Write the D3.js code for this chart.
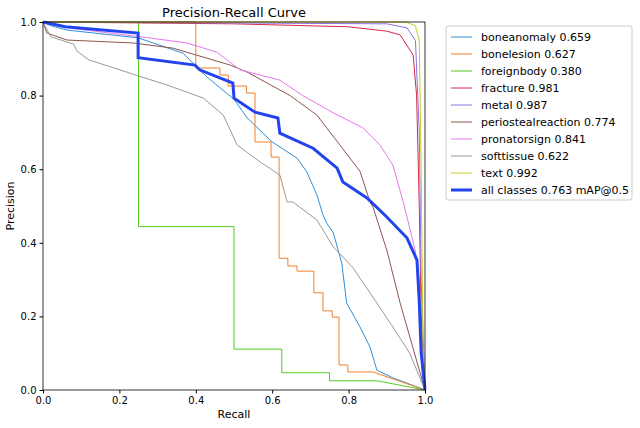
<!DOCTYPE html>
<html><head><meta charset="utf-8">
<script src="https://cdn.jsdelivr.net/npm/d3@7"></script>
<style>body{margin:0;background:#fff}svg{font-family:"DejaVu Sans",sans-serif}</style>
</head><body><svg id="c" width="640" height="428"></svg>
<script>
const names = ["boneanomaly 0.659","bonelesion 0.627","foreignbody 0.380","fracture 0.981","metal 0.987","periostealreaction 0.774","pronatorsign 0.841","softtissue 0.622","text 0.992","all classes 0.763 mAP@0.5"];
const colors = ["#2f8fd8","#f07f2a","#55cc22","#d8284a","#9070e0","#8c564b","#e878e8","#999999","#c8cc22","#2244ee"];

const boneanomaly = [[0,1],[0.02,0.99],[0.063,0.978],[0.249,0.957],[0.367,0.915],[0.41,0.87],[0.43,0.85],[0.5,0.79],[0.534,0.74],[0.6,0.674],[0.665,0.63],[0.69,0.594],[0.717,0.53],[0.733,0.476],[0.743,0.453],[0.76,0.427],[0.782,0.345],[0.795,0.236],[0.83,0.171],[0.856,0.117],[0.874,0.054],[0.916,0.033],[1,0]];
const bonelesion = [[0,1],[0.4,1],[0.4,0.875],[0.463,0.875],[0.463,0.856],[0.485,0.856],[0.485,0.826],[0.533,0.826],[0.533,0.807],[0.555,0.807],[0.555,0.674],[0.597,0.674],[0.597,0.633],[0.618,0.633],[0.618,0.358],[0.641,0.358],[0.641,0.337],[0.665,0.337],[0.665,0.323],[0.709,0.323],[0.709,0.264],[0.733,0.264],[0.733,0.215],[0.757,0.215],[0.757,0.198],[0.775,0.198],[0.775,0.068],[0.798,0.068],[0.798,0.049],[0.864,0.049],[1,0]];
const foreignbody = [[0,1],[0.25,1],[0.25,0.444],[0.5,0.444],[0.5,0.111],[0.625,0.111],[0.625,0.047],[0.75,0.047],[0.75,0.025],[0.875,0.025],[1,0]];
const fracture = [[0,1],[0.5,0.995],[0.8,0.987],[0.9,0.975],[0.935,0.965],[0.969,0.91],[0.978,0.8],[0.985,0.5],[0.99,0.2],[1,0]];
const metal = [[0,1],[0.9,0.995],[0.953,0.984],[0.975,0.95],[0.985,0.7],[0.99,0.3],[1,0]];
const periosteal = [[0,1],[0.01,0.97],[0.063,0.951],[0.236,0.943],[0.34,0.929],[0.49,0.883],[0.534,0.864],[0.647,0.8],[0.717,0.747],[0.777,0.666],[0.83,0.594],[0.856,0.511],[0.864,0.497],[0.9,0.38],[0.935,0.236],[0.97,0.109],[1,0]];
const pronator = [[0,1],[0.08,0.982],[0.254,0.96],[0.377,0.943],[0.455,0.918],[0.516,0.87],[0.62,0.842],[0.68,0.8],[0.76,0.753],[0.838,0.712],[0.882,0.666],[0.916,0.611],[0.943,0.511],[0.953,0.47],[0.974,0.38],[0.985,0.3],[0.99,0.1],[1,0]];
const softtissue = [[0,1],[0.02,0.96],[0.08,0.94],[0.09,0.92],[0.12,0.897],[0.228,0.861],[0.245,0.855],[0.324,0.829],[0.42,0.793],[0.472,0.747],[0.508,0.666],[0.568,0.62],[0.62,0.584],[0.639,0.511],[0.654,0.511],[0.717,0.462],[0.76,0.389],[0.81,0.334],[0.856,0.264],[0.916,0.171],[0.96,0.1],[1,0]];
const text = [[0,1],[0.95,1],[0.975,0.99],[0.985,0.95],[0.99,0.6],[0.995,0.1],[1,0]];
const allClasses = [[0,1],[0.058,0.987],[0.249,0.97],[0.249,0.903],[0.398,0.883],[0.41,0.87],[0.497,0.834],[0.5,0.793],[0.555,0.755],[0.615,0.739],[0.62,0.698],[0.707,0.657],[0.77,0.603],[0.785,0.565],[0.848,0.522],[0.9,0.47],[0.953,0.413],[0.979,0.353],[0.985,0.24],[0.99,0.1],[1,0]];
const series = [boneanomaly,bonelesion,foreignbody,fracture,metal,periosteal,pronator,softtissue,text,allClasses];
const ticks = [0,0.2,0.4,0.6,0.8,1.0];

const svg = d3.select("#c");
const x = d3.scaleLinear().domain([0,1]).range([43,425]);
const y = d3.scaleLinear().domain([0,1]).range([390,22]);
const line = d3.line().x(d => x(d[0])).y(d => y(d[1]));

series.forEach((s, i) => {
  svg.append("path").attr("d", line(s)).attr("fill","none")
    .attr("stroke", colors[i]).attr("stroke-width", i === 9 ? 3 : 1);
});

svg.append("g").attr("transform","translate(0,390)")
  .call(d3.axisBottom(x).tickValues(ticks).tickFormat(d3.format(".1f")).tickSize(3.5))
  .call(g => g.selectAll("text").attr("font-size",10).attr("fill","#000").attr("font-family","DejaVu Sans"));
svg.append("g").attr("transform","translate(43,0)")
  .call(d3.axisLeft(y).tickValues(ticks).tickFormat(d3.format(".1f")).tickSize(3.5))
  .call(g => g.selectAll("text").attr("font-size",10).attr("fill","#000").attr("font-family","DejaVu Sans"));
svg.selectAll(".domain").remove();
svg.append("rect").attr("x",43).attr("y",22).attr("width",382).attr("height",368)
  .attr("fill","none").attr("stroke","#000").attr("stroke-width",0.8);

svg.append("text").attr("x",234).attr("y",17).attr("text-anchor","middle").attr("font-size",13).text("Precision-Recall Curve");
svg.append("text").attr("x",234).attr("y",418).attr("text-anchor","middle").attr("font-size",11).text("Recall");
svg.append("text").attr("transform","translate(14,206) rotate(-90)").attr("text-anchor","middle").attr("font-size",11).text("Precision");

const lg = svg.append("g");
lg.append("rect").attr("x",446).attr("y",26).attr("width",186).attr("height",174).attr("rx",2)
  .attr("fill","#fff").attr("stroke","#ccc");
names.forEach((n, i) => {
  const yy = 37 + i * 17;
  lg.append("line").attr("x1",451).attr("x2",472).attr("y1",yy).attr("y2",yy)
    .attr("stroke",colors[i]).attr("stroke-width", i === 9 ? 3 : 1);
  lg.append("text").attr("x",481).attr("y",yy+4).attr("font-size",11).text(n);
});
</script></body></html>
